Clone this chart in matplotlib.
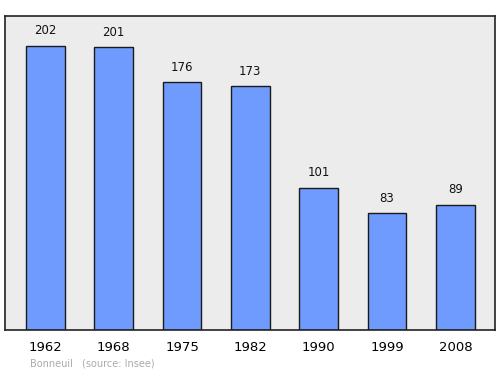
import matplotlib.pyplot as plt
import numpy as np

years = ['1962', '1968', '1975', '1982', '1990', '1999', '2008']
population = [202, 201, 176, 173, 101, 83, 89]

fig = plt.figure(figsize=(5, 3.74), dpi=100)
ax = fig.add_axes([5 / 500, 1 - 330 / 374, 490 / 500, 314 / 374])
ax.set_facecolor('#ececec')

x = np.arange(len(years))
ax.bar(x, population, width=0.57, color='#6f9bff', edgecolor='#1a1a1a', linewidth=1, zorder=2)
for xi, v in zip(x, population):
    ax.annotate(str(v), (xi, v), xytext=(0, 6), textcoords='offset points',
                ha='center', va='bottom', fontsize=8.5, color='#111111')

ax.set_xlim(-0.59, 6.58)
ax.set_ylim(0, 223)
ax.set_yticks([])
ax.set_xticks(x)
ax.set_xticklabels(years, fontsize=9.5)
ax.tick_params(axis='x', length=0, pad=8)
for s in ax.spines.values():
    s.set_color('#222222')
    s.set_linewidth(1.2)

fig.text(30 / 500, 1 - 364 / 374, 'Bonneuil', fontsize=7, color='#aaaaaa', va='center')
fig.text(82 / 500, 1 - 364 / 374, '(source: Insee)', fontsize=7, color='#aaaaaa', va='center')

fig.savefig('out.png')
